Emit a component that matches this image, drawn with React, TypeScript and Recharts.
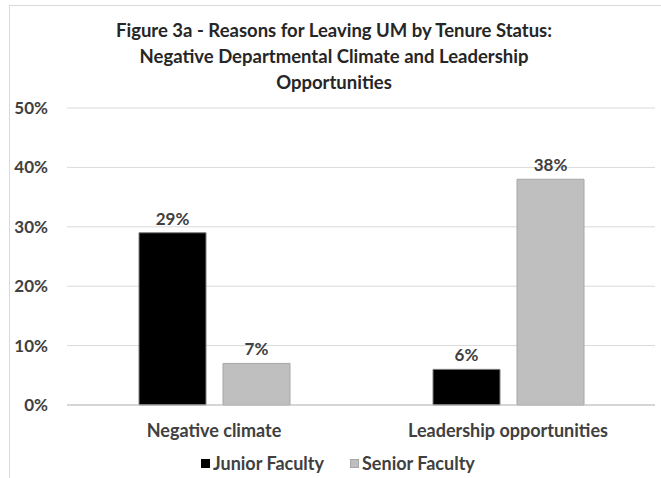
import { BarChart, Bar, XAxis, YAxis, CartesianGrid, LabelList } from 'recharts'

const categories = ['Negative climate', 'Leadership opportunities']
const juniorValues = [29, 6]
const seniorValues = [7, 38]
const yTicks = [0, 10, 20, 30, 40, 50]
const titleLines = [
  'Figure 3a - Reasons for Leaving UM by Tenure Status:',
  'Negative Departmental Climate and Leadership',
  'Opportunities',
]

const data = categories.map((name, i) => ({
  name,
  junior: juniorValues[i],
  senior: seniorValues[i],
}))

const FONT = 'Lato, "Open Sans", sans-serif'
const TEXT = '#404040'

export default function App() {
  return (
    <div style={{ position: 'absolute', left: 0, top: 0, width: 661, height: 478, fontFamily: FONT, background: '#fff' }}>
      <div
        style={{
          position: 'absolute',
          left: 9,
          top: 5,
          right: 0,
          bottom: 0,
          borderLeft: '1px solid #d9d9d9',
          borderTop: '1px solid #d9d9d9',
        }}
      />
      <div
        style={{
          position: 'absolute',
          left: 0,
          top: 17,
          width: 668,
          textAlign: 'center',
          fontWeight: 700,
          fontSize: 18.5,
          lineHeight: '26px',
          color: '#262626',
        }}
      >
        {titleLines.map((t) => (
          <div key={t}>{t}</div>
        ))}
      </div>
      <BarChart
        width={661}
        height={478}
        data={data}
        margin={{ top: 108, right: 6, bottom: 43, left: 10 }}
        barCategoryGap={72}
        barGap={17}
        style={{ position: 'absolute', left: 0, top: 0 }}
      >
        <CartesianGrid horizontal vertical={false} stroke="#d9d9d9" />
        <XAxis
          dataKey="name"
          height={30}
          axisLine={{ stroke: '#bfbfbf' }}
          tickLine={false}
          tickSize={0}
          tickMargin={19}
          tick={{ fill: TEXT, fontSize: 18, fontWeight: 700, fontFamily: FONT }}
        />
        <YAxis
          width={57}
          domain={[0, 50]}
          ticks={yTicks}
          tickFormatter={(v) => `${v}%`}
          axisLine={false}
          tickLine={false}
          tickSize={0}
          tickMargin={19}
          tick={{ fill: TEXT, fontSize: 17, fontWeight: 700, fontFamily: FONT }}
        />
        <Bar dataKey="junior" fill="#000000" stroke="#7f7f7f" strokeWidth={1} isAnimationActive={false}>
          <LabelList
            dataKey="junior"
            position="top"
            offset={8}
            formatter={(v: number) => `${v}%`}
            style={{ fill: TEXT, fontSize: 17, fontWeight: 700, fontFamily: FONT }}
          />
        </Bar>
        <Bar dataKey="senior" fill="#bfbfbf" stroke="#a6a6a6" strokeWidth={1} isAnimationActive={false}>
          <LabelList
            dataKey="senior"
            position="top"
            offset={8}
            formatter={(v: number) => `${v}%`}
            style={{ fill: TEXT, fontSize: 17, fontWeight: 700, fontFamily: FONT }}
          />
        </Bar>
      </BarChart>
      <div
        style={{
          position: 'absolute',
          left: 201,
          top: 451,
          display: 'flex',
          alignItems: 'center',
          fontWeight: 700,
          fontSize: 18,
          lineHeight: '24px',
          color: TEXT,
        }}
      >
        <span style={{ width: 9, height: 9, background: '#000', marginRight: 3 }} />
        <span style={{ marginRight: 26 }}>Junior Faculty</span>
        <span style={{ width: 9, height: 9, background: '#bfbfbf', border: '1px solid #a6a6a6', boxSizing: 'border-box', marginRight: 3 }} />
        <span>Senior Faculty</span>
      </div>
    </div>
  )
}
